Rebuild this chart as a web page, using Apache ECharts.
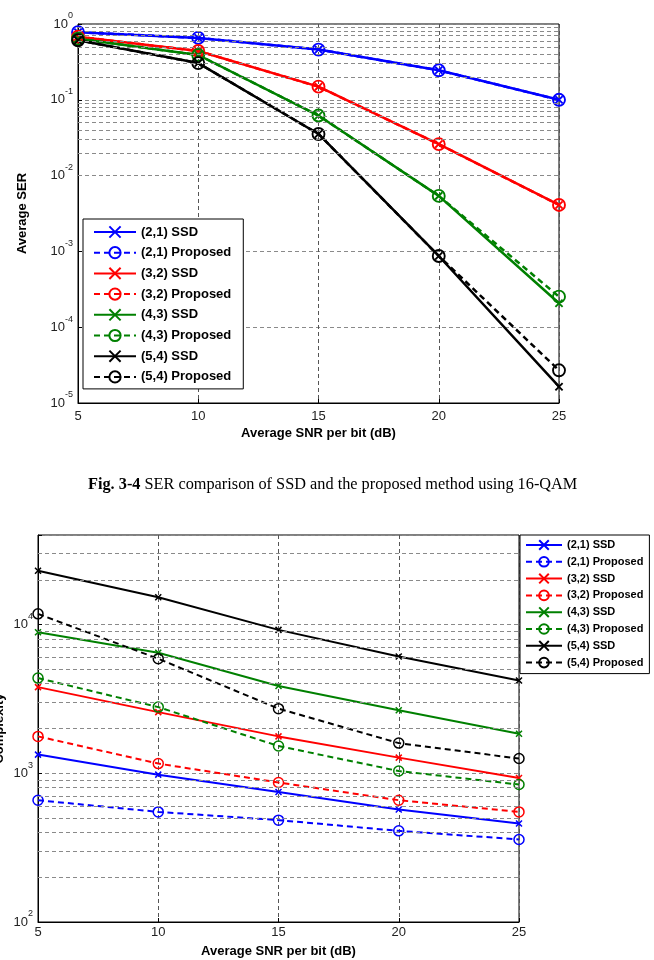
<!DOCTYPE html>
<html>
<head>
<meta charset="utf-8">
<script src="https://cdn.jsdelivr.net/npm/echarts@6/dist/echarts.min.js"></script>
<style>
html,body{margin:0;padding:0;background:#fff;}
#c1{position:absolute;left:0;top:0;width:654px;height:510px;}
#c2{position:absolute;left:0;top:510px;width:654px;height:450px;}
</style>
</head>
<body>
<div id="c1"></div>
<div id="c2"></div>
<script>
// ---------- data ----------
const snr = [5, 10, 15, 20, 25];
const xTicks = [5, 10, 15, 20, 25];
const seriesNames = ['(2,1) SSD', '(2,1) Proposed', '(3,2) SSD', '(3,2) Proposed',
                     '(4,3) SSD', '(4,3) Proposed', '(5,4) SSD', '(5,4) Proposed'];
const seriesColors = ['#0000ff', '#0000ff', '#ff0000', '#ff0000', '#008000', '#008000', '#000000', '#000000'];

// Fig 3-4: SER
const ser21SSD = [0.78, 0.655, 0.46, 0.245, 0.10];
const ser21Prop = [0.78, 0.655, 0.46, 0.245, 0.10];
const ser32SSD = [0.68, 0.44, 0.149, 0.026, 0.0041];
const ser32Prop = [0.68, 0.44, 0.149, 0.026, 0.0041];
const ser43SSD = [0.64, 0.39, 0.062, 0.0054, 0.000207];
const ser43Prop = [0.64, 0.39, 0.062, 0.0054, 0.000253];
const ser54SSD = [0.61, 0.305, 0.0354, 0.00087, 0.0000164];
const ser54Prop = [0.61, 0.305, 0.0354, 0.00087, 0.000027];

// Complexity
const cx21SSD = [1335, 979, 749, 571, 460];
const cx21Prop = [659, 550, 484, 410, 359];
const cx32SSD = [3795, 2577, 1770, 1274, 929];
const cx32Prop = [1770, 1162, 867, 659, 550];
const cx43SSD = [8880, 6460, 3860, 2650, 1846];
const cx43Prop = [4365, 2785, 1525, 1035, 840];
const cx54SSD = [23000, 15250, 9210, 6100, 4210];
const cx54Prop = [11800, 5890, 2720, 1595, 1256];

const serSets = [ser21SSD, ser21Prop, ser32SSD, ser32Prop, ser43SSD, ser43Prop, ser54SSD, ser54Prop];
const cxSets = [cx21SSD, cx21Prop, cx32SSD, cx32Prop, cx43SSD, cx43Prop, cx54SSD, cx54Prop];

const serDecades = [-5, -4, -3, -2, -1];
const cxDecades = [2, 3, 4];
const cxMax = 40000;

// ---------- helpers ----------
const FONT = "'Liberation Sans', Arial, sans-serif";
const GRID_COLOR = '#8a8a8a';
const CROSS = 'path://M0,0L10,10M10,0L0,10';

function minorValues(decades, maxV) {
  const out = [];
  decades.forEach(e => {
    for (let k = 2; k <= 9; k++) {
      const v = k * Math.pow(10, e);
      if (maxV === undefined || v < maxV) out.push({ yAxis: v });
    }
  });
  return out;
}

function powLabel(v) {
  const l = Math.log10(v);
  const e = Math.round(l);
  if (Math.abs(l - e) > 1e-6) return '';
  return '{b|10}{s|' + e + '}';
}

function buildSeries(sets, lw, symSize) {
  const arr = [];
  sets.forEach((d, i) => {
    const isProp = i % 2 === 1;
    const col = seriesColors[i];
    arr.push({
      name: seriesNames[i],
      type: 'line',
      data: snr.map((x, j) => [x, d[j]]),
      symbol: isProp ? 'circle' : CROSS,
      symbolSize: isProp ? symSize : symSize * 0.6,
      showAllSymbol: true,
      lineStyle: { color: col, width: lw, type: isProp ? [6, 4] : 'solid' },
      itemStyle: { color: 'rgba(0,0,0,0)', borderColor: col, borderWidth: lw * 0.75 },
      emphasis: { disabled: true },
      animation: false,
      z: 3
    });
  });
  return arr;
}

function gridSeries(decades, maxV) {
  return {
    name: 'minorgrid',
    type: 'line',
    data: [],
    z: 1,
    silent: true,
    animation: false,
    markLine: {
      silent: true,
      symbol: ['none', 'none'],
      label: { show: false },
      animation: false,
      lineStyle: { color: GRID_COLOR, type: [4, 3], width: 1 },
      data: minorValues(decades, maxV)
    }
  };
}

function axisX(nameGap, labelMargin) {
  return {
    type: 'value',
    min: 5, max: 25, interval: 5,
    name: 'Average SNR per bit (dB)',
    nameLocation: 'middle',
    nameGap: nameGap,
    nameMoveOverlap: false,
    nameTextStyle: { fontFamily: FONT, fontSize: 13, fontWeight: 'bold', color: '#000' },
    axisLine: { show: true, lineStyle: { color: '#000', width: 1 } },
    axisTick: { show: true, inside: true, length: 4, lineStyle: { color: '#000' } },
    axisLabel: { margin: labelMargin, fontFamily: FONT, fontSize: 13, color: '#222',
      formatter: v => (xTicks.indexOf(v) >= 0 ? String(v) : '') },
    splitLine: { show: true, lineStyle: { color: '#555', type: [4, 3], width: 1 } }
  };
}

function axisY(minV, maxV, name, nameGap) {
  return {
    type: 'log', logBase: 10,
    min: minV, max: maxV,
    name: name,
    nameLocation: 'middle',
    nameGap: nameGap,
    nameRotate: 90,
    nameMoveOverlap: false,
    nameTextStyle: { fontFamily: FONT, fontSize: 13, fontWeight: 'bold', color: '#000' },
    axisLine: { show: true, lineStyle: { color: '#000', width: 1 } },
    axisTick: { show: true, inside: true, length: 4, lineStyle: { color: '#000' } },
    axisLabel: {
      margin: 5,
      formatter: powLabel,
      rich: {
        b: { fontFamily: FONT, fontSize: 13, color: '#222', verticalAlign: 'bottom', lineHeight: 13 },
        s: { fontFamily: FONT, fontSize: 9, color: '#222', verticalAlign: 'bottom', lineHeight: 9, padding: [0, 0, 10, 0] }
      }
    },
    splitLine: { show: true, lineStyle: { color: GRID_COLOR, type: [4, 3], width: 1 } },
    minorTick: { show: false },
    minorSplitLine: { show: false }
  };
}

// ---------- chart 1 ----------
const chart1 = echarts.init(document.getElementById('c1'), null, { renderer: 'canvas' });
chart1.setOption({
  backgroundColor: '#fff',
  animation: false,
  grid: { left: 78, right: 95, top: 24, bottom: 107, outerBoundsMode: 'none', containLabel: false,
          show: true, borderColor: '#000', borderWidth: 1, backgroundColor: 'rgba(0,0,0,0)' },
  xAxis: axisX(24, 7),
  yAxis: axisY(1e-5, 1, 'Average SER', 49),
  legend: {
    data: seriesNames,
    orient: 'vertical',
    left: 83, top: 219,
    itemWidth: 42, itemHeight: 14, itemGap: 6.7,
    padding: [6, 12, 5, 10],
    borderColor: '#000', borderWidth: 1,
    backgroundColor: '#fff',
    selectedMode: false,
    textStyle: { fontFamily: FONT, fontSize: 13, fontWeight: 'bold', color: '#000', lineHeight: 14 }
  },
  graphic: [{
    type: 'text',
    left: 88, top: 477,
    style: {
      text: '{b|Fig. 3-4} SER comparison of SSD and the proposed method using 16-QAM',
      fontFamily: "'Liberation Serif', 'Times New Roman', serif",
      fontSize: 16.3, fill: '#000',
      rich: { b: { fontFamily: "'Liberation Serif', 'Times New Roman', serif", fontSize: 16.3, fontWeight: 'bold', fill: '#000' } }
    }
  }],
  series: [gridSeries(serDecades)].concat(buildSeries(serSets, 2.5, 12))
});

// ---------- chart 2 ----------
const chart2 = echarts.init(document.getElementById('c2'), null, { renderer: 'canvas' });
chart2.setOption({
  backgroundColor: '#fff',
  animation: false,
  grid: { left: 38, right: 135, top: 25, bottom: 38, outerBoundsMode: 'none', containLabel: false,
          show: true, borderColor: '#000', borderWidth: 1, backgroundColor: 'rgba(0,0,0,0)' },
  xAxis: axisX(23, 4),
  yAxis: axisY(100, cxMax, 'Complexity', 32),
  legend: {
    data: seriesNames,
    orient: 'vertical',
    left: 520, top: 25,
    itemWidth: 36, itemHeight: 12, itemGap: 4.8,
    padding: [4, 6, 5, 5],
    borderColor: '#000', borderWidth: 1,
    backgroundColor: '#fff',
    selectedMode: false,
    textStyle: { fontFamily: FONT, fontSize: 11, fontWeight: 'bold', color: '#000', lineHeight: 12 }
  },
  series: [gridSeries(cxDecades, cxMax)].concat(buildSeries(cxSets, 2, 10))
});
</script>
</body>
</html>
